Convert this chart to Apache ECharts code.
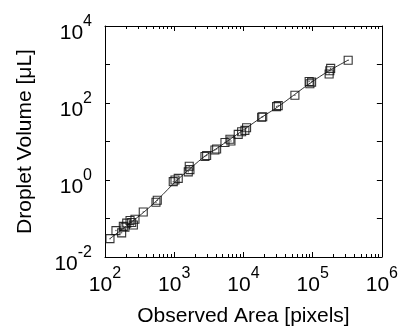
<!DOCTYPE html>
<html>
<head>
<meta charset="utf-8">
<script src="https://cdn.jsdelivr.net/npm/echarts@6/dist/echarts.min.js"></script>
<style>
  html, body { margin: 0; padding: 0; background: #fff; }
  #chart { width: 401px; height: 332px; }
</style>
</head>
<body>
<div id="chart"></div>
<script>
// observed droplets (area in pixels, volume in uL)
const area = [118, 144, 174, 184, 194, 206, 230, 243, 257, 271, 357, 545, 569,
  968, 1026, 1143, 1596, 1648, 1687, 2780, 2940, 3870, 4100, 5410, 6380, 6600,
  8410, 9420, 10500, 11100, 18300, 19000, 30100, 31800, 55400, 89000, 91200,
  96600, 173000, 177000, 182000, 326000];
const volume = [0.030, 0.0485, 0.0424, 0.0624, 0.059, 0.076, 0.089, 0.079, 0.068,
  0.096, 0.148, 0.265, 0.298, 0.906, 1.0, 1.10, 1.63, 2.27, 1.86, 4.08, 4.33,
  6.0, 6.37, 9.4, 11.4, 10.3, 15.3, 17.9, 19.4, 22.7, 42.5, 44, 80.7, 85.7, 159,
  363, 316, 349, 568, 689, 793, 1288];

// fitted curve
const fitArea = [118, 357, 589, 1107, 2840, 4010, 11100, 18300, 31800, 93300, 173000, 326000];
const fitVolume = [0.030, 0.142, 0.32, 1.0, 4.33, 6.4, 22.7, 42.5, 80.7, 335, 689, 1300];

const xTicks = [1e2, 1e3, 1e4, 1e5, 1e6];
const yTicks = [1e-2, 1e-1, 1e0, 1e1, 1e2, 1e3, 1e4];
const yLabelled = [1e-2, 1e0, 1e2, 1e4];

const xMinor = [];
for (let i = 0; i < xTicks.length - 1; i++) {
  for (let k = 2; k <= 9; k++) xMinor.push(xTicks[i] * k);
}

const FONT = '"Liberation Sans", Arial, Helvetica, sans-serif';
const rich = {
  b: { fontSize: 21, fontFamily: FONT, color: '#000', lineHeight: 30, verticalAlign: 'bottom' },
  s: { fontSize: 16, fontFamily: FONT, color: '#000', lineHeight: 14, verticalAlign: 'top' }
};
const powLabel = v => '{b|10}{s|' + Math.round(Math.log10(v)) + '}';

const chart = echarts.init(document.getElementById('chart'));

const baseX = {
  type: 'log', min: 1e2, max: 1e6, gridIndex: 0,
  splitLine: { show: false }
};
const baseY = {
  type: 'log', min: 1e-2, max: 1e4, gridIndex: 0,
  splitLine: { show: false }
};
const lineStyle = { color: '#000', width: 1 };
const titleStyle = { fontSize: 21, fontFamily: FONT, color: '#000' };

chart.setOption({
  animation: false,
  grid: { left: 105, right: 19, top: 26, bottom: 70 },
  xAxis: [
    Object.assign({}, baseX, {
      position: 'bottom',
      name: 'Observed Area [pixels]',
      nameLocation: 'middle',
      nameGap: 49,
      nameTextStyle: titleStyle,
      axisLine: { show: true, lineStyle },
      axisTick: { show: true, inside: true, length: 5, lineStyle, customValues: xTicks },
      axisLabel: { show: true, margin: 9, formatter: powLabel, rich, customValues: xTicks }
    }),
    Object.assign({}, baseX, {
      position: 'bottom',
      axisLine: { show: false },
      axisTick: { show: true, inside: true, length: 3, lineStyle, customValues: xMinor },
      axisLabel: { show: false }
    }),
    Object.assign({}, baseX, {
      position: 'top',
      axisLine: { show: true, lineStyle },
      axisTick: { show: true, inside: true, length: 5, lineStyle, customValues: xTicks },
      axisLabel: { show: false }
    }),
    Object.assign({}, baseX, {
      position: 'top',
      axisLine: { show: false },
      axisTick: { show: true, inside: true, length: 3, lineStyle, customValues: xMinor },
      axisLabel: { show: false }
    })
  ],
  yAxis: [
    Object.assign({}, baseY, {
      position: 'left',
      name: 'Droplet Volume [\u03bcL]',
      nameLocation: 'middle',
      nameGap: 69,
      nameTextStyle: titleStyle,
      axisLine: { show: true, lineStyle },
      axisTick: { show: true, inside: true, length: 5, lineStyle, customValues: yTicks },
      axisLabel: { show: true, margin: 13, padding: [5, 0, 0, 0], formatter: powLabel, rich, customValues: yLabelled }
    }),
    Object.assign({}, baseY, {
      position: 'right',
      axisLine: { show: true, lineStyle },
      axisTick: { show: true, inside: true, length: 5, lineStyle, customValues: yTicks },
      axisLabel: { show: false }
    })
  ],
  series: [
    {
      type: 'line',
      xAxisIndex: 0, yAxisIndex: 0,
      data: fitArea.map((a, i) => [a, fitVolume[i]]),
      showSymbol: false,
      smooth: 0.3,
      lineStyle: { color: '#000', width: 0.8 },
      z: 3
    },
    {
      type: 'scatter',
      xAxisIndex: 0, yAxisIndex: 0,
      data: area.map((a, i) => [a, volume[i]]),
      symbol: 'rect',
      symbolSize: 8,
      itemStyle: { color: 'rgba(0,0,0,0)', borderColor: '#111', borderWidth: 1.1, opacity: 0.85 },
      z: 4
    },
    {
      type: 'scatter',
      xAxisIndex: 0, yAxisIndex: 0,
      data: area.map((a, i) => [a, volume[i]]),
      symbol: 'circle',
      symbolSize: 1.5,
      itemStyle: { color: '#333' },
      z: 5
    }
  ]
});
</script>
</body>
</html>
